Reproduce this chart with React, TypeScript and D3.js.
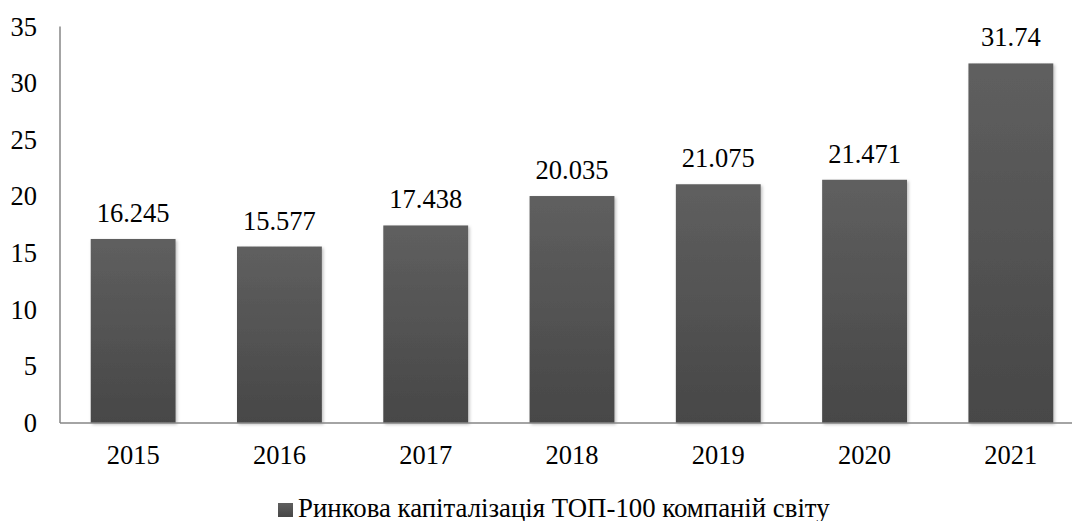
import React from "react";
import * as d3 from "d3";

const categories = ["2015", "2016", "2017", "2018", "2019", "2020", "2021"];
const values = [16.245, 15.577, 17.438, 20.035, 21.075, 21.471, 31.74];
const valueLabels = ["16.245", "15.577", "17.438", "20.035", "21.075", "21.471", "31.74"];
const yTicks = [0, 5, 10, 15, 20, 25, 30, 35];
const seriesName = "Ринкова капіталізація ТОП-100 компаній світу";

const W = 1072;
const H = 521;
const FONT = '"Liberation Serif", "Times New Roman", Times, serif';

export default function App() {
  const x = d3.scaleBand<string>().domain(categories).range([60, 1084]).paddingInner(0.42).paddingOuter(0.21);
  const y = d3.scaleLinear().domain([0, 35]).range([423, 26.5]);
  const bw = x.bandwidth();
  const txt = { fontFamily: FONT, fontSize: "26.5px", fill: "#000" } as React.CSSProperties;
  return (
    <svg width={W} height={H} style={{ position: "absolute", left: 0, top: 0, background: "#fff", fontFamily: FONT }}>
      <defs>
        <linearGradient id="barGrad" x1="0" y1="0" x2="0" y2="1">
          <stop offset="0" stopColor="#5f5f5f" />
          <stop offset="1" stopColor="#474747" />
        </linearGradient>
        <filter id="shadow" x="-10%" y="-10%" width="130%" height="130%">
          <feDropShadow dx="1.5" dy="1.5" stdDeviation="1.5" floodColor="#000" floodOpacity="0.25" />
        </filter>
      </defs>
      {categories.map((c, i) => (
        <rect key={c} x={x(c)} y={y(values[i])} width={bw} height={y(0) - y(values[i])} fill="url(#barGrad)" filter="url(#shadow)" />
      ))}
      <line x1={60} x2={60} y1={y(35)} y2={y(0)} stroke="#868686" strokeWidth={1.5} />
      <line x1={60} x2={W} y1={y(0)} y2={y(0)} stroke="#868686" strokeWidth={1.5} />
      {yTicks.map((t) => (
        <text key={t} x={37} y={y(t) + 9} textAnchor="end" style={txt}>
          {t}
        </text>
      ))}
      {categories.map((c) => (
        <text key={c} x={(x(c) as number) + bw / 2} y={464} textAnchor="middle" style={txt}>
          {c}
        </text>
      ))}
      {categories.map((c, i) => (
        <text key={c} x={(x(c) as number) + bw / 2} y={y(values[i]) - 17} textAnchor="middle" style={txt}>
          {valueLabels[i]}
        </text>
      ))}
      <rect x={278} y={503} width={15} height={14} fill="url(#barGrad)" />
      <text x={298} y={517} style={{ ...txt, fontSize: "26.8px" }}>
        {seriesName}
      </text>
    </svg>
  );
}
